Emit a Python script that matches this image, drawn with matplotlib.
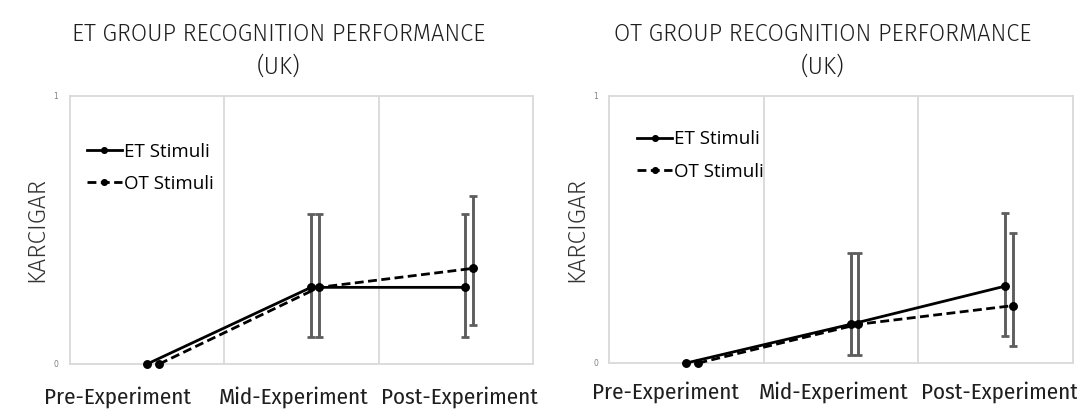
import numpy as np
import matplotlib
matplotlib.use("Agg")
import matplotlib.pyplot as plt
from matplotlib.font_manager import FontProperties

# ---- data -------------------------------------------------------------
categories = ["Pre-Experiment", "Mid-Experiment", "Post-Experiment"]
series_names = ["ET Stimuli", "OT Stimuli"]

# ET group (UK)
et_group_et = [0.0, 0.286, 0.286]
et_group_ot = [0.0, 0.286, 0.357]
et_group_et_low = [np.nan, 0.102, 0.102]
et_group_et_high = [np.nan, 0.558, 0.558]
et_group_ot_low = [np.nan, 0.102, 0.146]
et_group_ot_high = [np.nan, 0.558, 0.627]

# OT group (UK)
ot_group_et = [0.0, 0.145, 0.288]
ot_group_ot = [0.0, 0.145, 0.215]
ot_group_et_low = [np.nan, 0.030, 0.101]
ot_group_et_high = [np.nan, 0.411, 0.561]
ot_group_ot_low = [np.nan, 0.030, 0.064]
ot_group_ot_high = [np.nan, 0.411, 0.487]

titles = ["ET GROUP RECOGNITION PERFORMANCE", "OT GROUP RECOGNITION PERFORMANCE"]
subtitle = "(UK)"
y_label = "KARCIGAR"

# ---- style ------------------------------------------------------------
W, H = 1077, 411
GRID = "#d9d9d9"
ERR = "#5e5e5e"
TXT = "#1f1f1f"

title_font = FontProperties(family=["Fira Sans", "DejaVu Sans"], weight=300, size=17)
tick_font = FontProperties(family=["Fira Sans Condensed", "DejaVu Sans"], weight=400, size=16.5)
ylab_font = FontProperties(family=["Fira Sans", "DejaVu Sans"], weight=300, size=17.5)
legend_font = FontProperties(family=["Open Sans", "DejaVu Sans"], size=13.5)

# horizontal placement of each series inside its category band
x_shift = {"ET Stimuli": [0.0, 0.062, 0.062], "OT Stimuli": [0.078, 0.113, 0.113]}
line_styles = {"ET Stimuli": "-", "OT Stimuli": (0, (3.2, 1.6))}


def fx(px):
    return px / W


def fy(py):
    return 1 - py / H


fig = plt.figure(figsize=(W / 100, H / 100), dpi=100)
fig.patch.set_facecolor("white")

panels = [
    dict(rect=[fx(70), fy(364), 463 / W, 268 / H],
         values={"ET Stimuli": et_group_et, "OT Stimuli": et_group_ot},
         low={"ET Stimuli": et_group_et_low, "OT Stimuli": et_group_ot_low},
         high={"ET Stimuli": et_group_et_high, "OT Stimuli": et_group_ot_high},
         title_x=279, legend_anchor=(0.037, 0.826),
         tick_centers=[117.5, 294, 459], tick_base=403.5,
         ylab_x=36, ytick_x=56),
    dict(rect=[fx(609), fy(363), 464 / W, 267 / H],
         values={"ET Stimuli": ot_group_et, "OT Stimuli": ot_group_ot},
         low={"ET Stimuli": ot_group_et_low, "OT Stimuli": ot_group_ot_low},
         high={"ET Stimuli": ot_group_et_high, "OT Stimuli": ot_group_ot_high},
         title_x=823, legend_anchor=(0.061, 0.871),
         tick_centers=[665.5, 833.5, 999.0], tick_base=398.5,
         ylab_x=576, ytick_x=596),
]

for i, p in enumerate(panels):
    ax = fig.add_axes(p["rect"])
    centers = np.arange(len(categories)) + 0.5
    ax.set_xlim(0, len(categories))
    ax.set_ylim(0, 1)

    # frame and category separators
    for s in ax.spines.values():
        s.set_color(GRID)
        s.set_linewidth(1.3)
    for b in range(1, len(categories)):
        ax.axvline(b, color=GRID, lw=1.3, zorder=0)

    ax.set_xticks([])
    ax.set_yticks([0, 1])
    ax.set_yticklabels([])
    ax.tick_params(axis="y", length=0)

    handles = []
    for name in series_names:
        xs = centers + np.array(x_shift[name])
        ys = np.array(p["values"][name])
        lo = np.array(p["low"][name])
        hi = np.array(p["high"][name])
        m = ~np.isnan(lo)
        ax.errorbar(xs[m], ys[m], yerr=[ys[m] - lo[m], hi[m] - ys[m]],
                    fmt="none", ecolor=ERR, elinewidth=2.1, capsize=3.2,
                    capthick=2.0, zorder=2)
        (ln,) = ax.plot(xs, ys, color="black", lw=2.0, ls=line_styles[name],
                        marker="o", ms=5.4, mfc="black", mec="black",
                        zorder=3, clip_on=False, label=name)
        handles.append(ln)

    ax.legend(handles=handles, loc="upper left", bbox_to_anchor=p["legend_anchor"],
              frameon=False, prop=legend_font, handlelength=1.85,
              handletextpad=0.1, labelspacing=0.76, borderpad=0,
              borderaxespad=0, markerscale=0.75)

    # y tick labels
    y0 = p["rect"][1] * H
    hpx = p["rect"][3] * H
    fig.text(fx(p["ytick_x"]), (y0 + hpx) / H, "1", ha="center", va="center",
             fontsize=5.5, color="#808080")
    fig.text(fx(p["ytick_x"]), y0 / H, "0", ha="center", va="center",
             fontsize=5.5, color="#808080")

    # category labels
    for c, lab in zip(p["tick_centers"], categories):
        fig.text(fx(c), fy(p["tick_base"]), lab, ha="center", va="baseline",
                 fontproperties=tick_font, color=TXT)

    # axis title
    fig.text(fx(p["ylab_x"]), fy(229), y_label, rotation=90, ha="center",
             va="center", fontproperties=ylab_font, color="#333333")

    # chart title
    fig.text(fx(p["title_x"]), fy(34), titles[i], ha="center", va="center",
             fontproperties=title_font, color=TXT)
    fig.text(fx(p["title_x"]), fy(67), subtitle, ha="center", va="center",
             fontproperties=title_font, color=TXT)

fig.savefig("out.png", dpi=100, facecolor="white")
